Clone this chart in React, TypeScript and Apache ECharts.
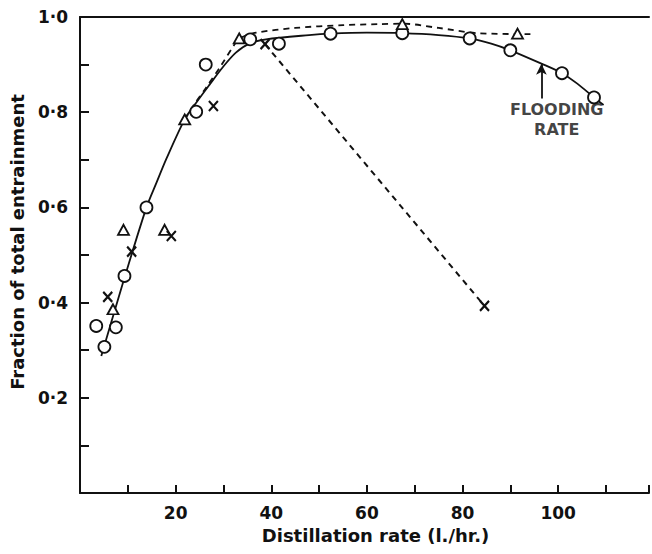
import React, { useEffect, useRef } from "react";
import * as echarts from "echarts";

// Open circles
const circleX = [3.4, 5.1, 7.5, 9.3, 13.9, 24.3, 26.3, 35.6, 41.6, 52.4, 67.4, 81.5, 90.0, 100.8, 107.5];
const circleY = [0.351, 0.307, 0.348, 0.456, 0.6, 0.801, 0.9, 0.953, 0.944, 0.965, 0.966, 0.955, 0.93, 0.882, 0.831];

// Open triangles
const triX = [6.9, 9.1, 17.7, 21.9, 33.3, 67.4, 91.5];
const triY = [0.386, 0.553, 0.553, 0.785, 0.955, 0.985, 0.965];

// Crosses
const crossX = [5.8, 10.8, 19.1, 27.9, 38.7, 84.6];
const crossY = [0.412, 0.507, 0.54, 0.813, 0.943, 0.393];

// Solid curve
const solidX = [4.45, 9.3, 13.9, 16.0, 18.1, 21.9, 24.3, 27.1, 29.9, 32.6, 35.4, 38.9, 47.9, 52.4, 60.0, 67.4, 75.0, 81.5, 86.0, 90.0, 96.5, 100.8, 104.0, 107.5, 109.5];
const solidY = [0.288, 0.452, 0.6, 0.652, 0.703, 0.785, 0.82, 0.858, 0.895, 0.925, 0.944, 0.953, 0.962, 0.965, 0.967, 0.966, 0.962, 0.955, 0.944, 0.93, 0.902, 0.882, 0.86, 0.831, 0.815];

// Upper dashed curve
const dashUpX = [21.9, 24.0, 26.4, 29.5, 32.3, 33.3, 36.8, 45.0, 55.0, 62.4, 67.6, 75.0, 83.2, 94.2];
const dashUpY = [0.785, 0.818, 0.852, 0.898, 0.942, 0.955, 0.967, 0.977, 0.983, 0.985, 0.986, 0.977, 0.966, 0.964];

// Falling dashed line
const dashDownX = [38.7, 84.6];
const dashDownY = [0.943, 0.393];

// Flooding-rate annotation
const arrowX = 96.5;
const arrowFromY = 0.829;
const arrowToY = 0.902;
const floodLabelX = 99.7;
const floodLabelY = 0.785;

const xTickLabels = [20, 40, 60, 80, 100];
const yTickLabels = [0.2, 0.4, 0.6, 0.8, 1.0];

const zip = (xs: number[], ys: number[]) => xs.map((x, i) => [x, ys[i]]);

const FONT = "DejaVu Sans";
const INK = "#111";

export default function App() {
  const ref = useRef<HTMLDivElement>(null);
  useEffect(() => {
    if (!ref.current) return;
    const chart = echarts.init(ref.current, null, { renderer: "svg" });
    const option: any = {
      animation: false,
      backgroundColor: "#fff",
      grid: { left: 80, right: 0, top: 17, bottom: 61, containLabel: false },
      xAxis: [
        {
          type: "value",
          min: 0,
          max: 119,
          interval: 10,
          name: "Distillation rate (l./hr.)",
          nameLocation: "middle",
          nameGap: 33,
          nameTextStyle: { fontFamily: FONT, fontWeight: "bold", fontSize: 18, color: INK, padding: [0, 0, 0, 22] },
          axisLine: { show: true, onZero: false, lineStyle: { color: INK, width: 2 } },
          axisTick: { show: true, inside: true, length: 8, lineStyle: { color: INK, width: 2 } },
          axisLabel: {
            margin: 11,
            fontFamily: FONT,
            fontWeight: "bold",
            fontSize: 17,
            color: INK,
            formatter: (v: number) => {
              const r = Math.round(v);
              return xTickLabels.includes(r) ? String(r) : "";
            },
          },
          splitLine: { show: false },
        },
        {
          type: "value",
          position: "top",
          min: 0,
          max: 119,
          axisLine: { show: true, onZero: false, lineStyle: { color: INK, width: 2 } },
          axisTick: { show: false },
          axisLabel: { show: false },
          splitLine: { show: false },
        },
      ],
      yAxis: {
        type: "value",
        min: 0,
        max: 1,
        interval: 0.1,
        name: "Fraction of total entrainment",
        nameLocation: "middle",
        nameGap: 51,
        nameTextStyle: { fontFamily: FONT, fontWeight: "bold", fontSize: 18, color: INK, padding: [0, 0, 0, 26] },
        axisLine: { show: true, onZero: false, lineStyle: { color: INK, width: 2 } },
        axisTick: { show: true, inside: true, length: 9, lineStyle: { color: INK, width: 2 } },
        axisLabel: {
          margin: 12,
          fontFamily: FONT,
          fontWeight: "bold",
          fontSize: 17,
          color: INK,
          formatter: (v: number) => {
            const r = Math.round(v * 10) / 10;
            return yTickLabels.some((t) => Math.abs(t - r) < 1e-6) ? r.toFixed(1).replace(".", "\u00b7") : "";
          },
        },
        splitLine: { show: false },
      },
      series: [
        {
          type: "line",
          data: zip(solidX, solidY),
          smooth: 0.3,
          showSymbol: false,
          lineStyle: { color: INK, width: 1.8 },
          z: 2,
          markLine: {
            silent: true,
            symbol: ["none", "arrow"],
            symbolSize: [8, 11],
            label: { show: false },
            lineStyle: { color: INK, width: 1.8, type: "solid" },
            data: [[{ coord: [arrowX, arrowFromY] }, { coord: [arrowX, arrowToY] }]],
          },
        },
        {
          type: "line",
          data: zip(dashUpX, dashUpY),
          smooth: 0.3,
          showSymbol: false,
          lineStyle: { color: INK, width: 1.8, type: [6, 5] },
          z: 2,
        },
        {
          type: "line",
          data: zip(dashDownX, dashDownY),
          showSymbol: false,
          lineStyle: { color: INK, width: 2, type: [6, 5] },
          z: 2,
        },
        {
          type: "scatter",
          data: zip(circleX, circleY),
          symbol: "circle",
          symbolSize: 12,
          itemStyle: { color: "#fff", borderColor: INK, borderWidth: 1.8, opacity: 1 },
          z: 4,
        },
        {
          type: "scatter",
          data: zip(triX, triY),
          symbol: "triangle",
          symbolSize: [11, 10],
          itemStyle: { color: "#fff", borderColor: INK, borderWidth: 1.8, opacity: 1 },
          z: 4,
        },
        {
          type: "scatter",
          data: zip(crossX, crossY),
          symbol: "path://M0,0L10,11M10,0L0,11",
          symbolSize: [9, 10],
          itemStyle: { color: "none", borderColor: INK, borderWidth: 2.2, opacity: 1 },
          z: 5,
        },
        {
          type: "scatter",
          data: [[floodLabelX, floodLabelY]],
          symbolSize: 0,
          silent: true,
          label: {
            show: true,
            position: "inside",
            formatter: "FLOODING\nRATE",
            fontFamily: FONT,
            fontWeight: "bold",
            fontSize: 16,
            lineHeight: 20,
            align: "center",
            color: INK,
          },
          z: 5,
        },
      ],
    };
    chart.setOption(option);
    return () => chart.dispose();
  }, []);
  return (
    <div
      ref={ref}
      style={{ position: "fixed", left: 0, top: 0, width: 652, height: 554, background: "#fff" }}
    />
  );
}
